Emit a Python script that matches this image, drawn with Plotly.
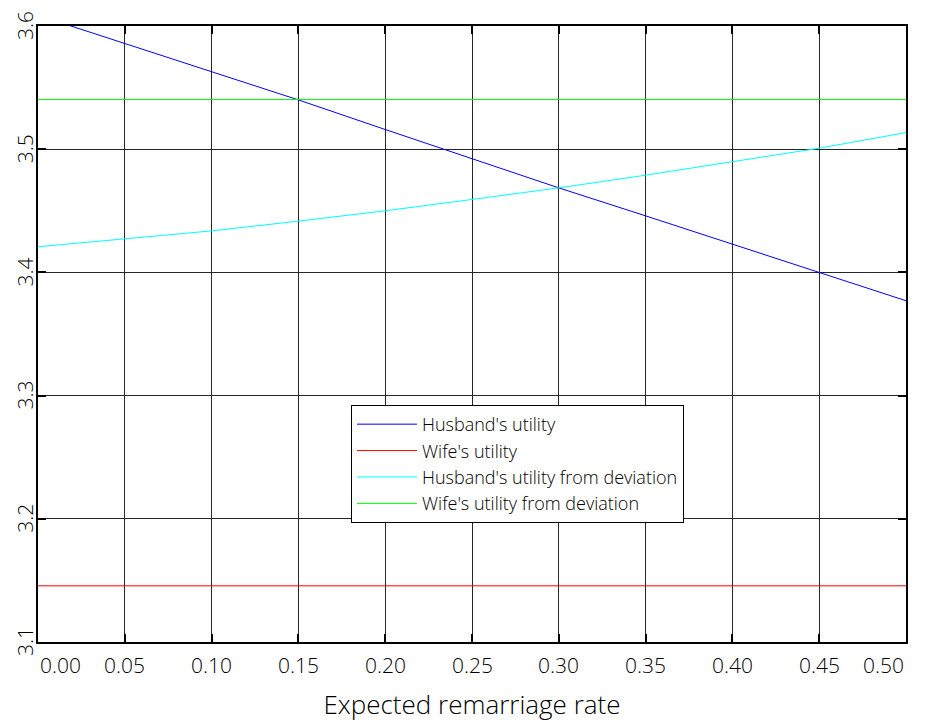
import plotly.graph_objects as go

rate = [0.00, 0.05, 0.10, 0.15, 0.20, 0.25, 0.30, 0.35, 0.40, 0.45, 0.50]
husband = [3.6087, 3.5857, 3.5627, 3.5400, 3.5160, 3.4925, 3.4686, 3.4459, 3.4230, 3.4000, 3.3770]
wife = [3.1456] * len(rate)
husband_dev = [3.4208, 3.4270, 3.4337, 3.4416, 3.4500, 3.4592, 3.4686, 3.4789, 3.4897, 3.5008, 3.5135]
wife_dev = [3.5403] * len(rate)

x_ticks = [0.00, 0.05, 0.10, 0.15, 0.20, 0.25, 0.30, 0.35, 0.40, 0.45, 0.50]
x_ticktext = ["0.00", "0.05", "0.10", "0.15", "0.20", "0.25", "0.30", "0.35", "0.40", "0.45", "0.50"]
y_ticks = [3.1, 3.2, 3.3, 3.4, 3.5, 3.6]
y_ticktext = ["3.1", "3.2", "3.3", "3.4", "3.5", "3.6"]

FONT = "Open Sans, DejaVu Sans, sans-serif"
W = 300

fig = go.Figure()
series = [
    ("Husband's utility", husband, "#0000ff"),
    ("Wife's utility", wife, "#ff0000"),
    ("Husband's utility from deviation", husband_dev, "#00ffff"),
    ("Wife's utility from deviation", wife_dev, "#00ff00"),
]
for name, vals, col in series:
    fig.add_trace(go.Scatter(x=rate, y=vals, mode="lines", name=name,
                             line=dict(color=col, width=1)))

annotations = []
for i, (v, t) in enumerate(zip(x_ticks, x_ticktext)):
    anchor = "left" if i == 0 else ("right" if i == len(x_ticks) - 1 else "center")
    annotations.append(dict(x=v, y=0, xref="x", yref="paper", text=t, showarrow=False,
                            xanchor=anchor, yanchor="top", yshift=-7,
                            font=dict(family=FONT, size=21, color="black", weight=W)))
for v, t in zip(y_ticks, y_ticktext):
    annotations.append(dict(x=0, y=v, xref="paper", yref="y", text=t, showarrow=False,
                            textangle=-90, xanchor="right", yanchor="middle", xshift=3,
                            font=dict(family=FONT, size=21, color="black", weight=W)))

fig.update_layout(
    width=924, height=714,
    margin=dict(l=30, r=26, t=18, b=80),
    paper_bgcolor="white", plot_bgcolor="white",
    showlegend=True,
    legend=dict(x=0.3606, y=0.3848, xanchor="left", yanchor="top",
                bgcolor="white", bordercolor="black", borderwidth=1,
                font=dict(family=FONT, size=18, color="black", weight=W),
                itemwidth=60),
    annotations=annotations,
    xaxis=dict(range=[0, 0.5], tickvals=x_ticks, ticktext=x_ticktext, showticklabels=False,
               automargin=False,
               showgrid=True, gridcolor="#262626", gridwidth=1, zeroline=False,
               showline=True, linecolor="black", linewidth=2, mirror="ticks",
               ticks="inside", ticklen=8, tickwidth=2, tickcolor="black",
               title=dict(text="Expected remarriage rate", standoff=54,
                          font=dict(family=FONT, size=26, color="black", weight=W))),
    yaxis=dict(range=[3.1, 3.6], tickvals=y_ticks, ticktext=y_ticktext, showticklabels=False,
               automargin=False,
               showgrid=True, gridcolor="#262626", gridwidth=1, zeroline=False,
               showline=True, linecolor="black", linewidth=2, mirror="ticks",
               ticks="inside", ticklen=8, tickwidth=2, tickcolor="black"),
)

fig.write_html("out.html")
